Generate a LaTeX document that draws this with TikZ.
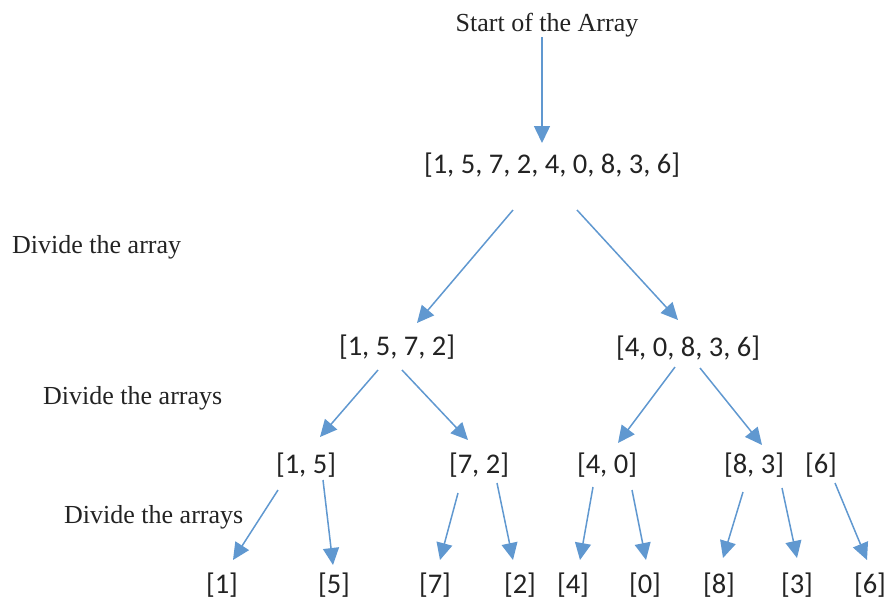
\documentclass[tikz,border=0pt]{standalone}
\usepackage{fontspec}
\setmainfont{Liberation Serif}
\newfontfamily\numfont{Carlito}
\usetikzlibrary{arrows.meta}
\definecolor{arrowblue}{RGB}{96,152,208}
\definecolor{inkgray}{RGB}{35,35,35}
\begin{document}
\begin{tikzpicture}[x=1pt,y=-1pt,
  arr/.style={draw=arrowblue,line width=1.5pt,
    -{Triangle[length=17pt,width=16pt,fill=arrowblue]}},
  arrnode/.style={anchor=base,inner sep=0pt,text=inkgray,
    font=\numfont\fontsize{28.5}{34}\selectfont},
  note/.style={anchor=base west,inner sep=0pt,text=inkgray,
    font=\fontsize{26}{30}\selectfont},
  title/.style={anchor=base,inner sep=0pt,text=inkgray,
    font=\fontsize{26}{30}\selectfont}]
\useasboundingbox (0,0) rectangle (887,603);

% labels
\node[title] (start) at (547,31) {Start of the Array};
\node[note] (n1) at (12,253) {Divide the array};
\node[note] (n2) at (43,404) {Divide the arrays};
\node[note] (n3) at (64,523) {Divide the arrays};

% array levels
\node[arrnode] (root) at (552,173) {[1, 5, 7, 2, 4, 0, 8, 3, 6]};
\node[arrnode] (l1a) at (397,355) {[1, 5, 7, 2]};
\node[arrnode] (l1b) at (688,356) {[4, 0, 8, 3, 6]};
\node[arrnode] (l2a) at (306,473) {[1, 5]};
\node[arrnode] (l2b) at (479,473) {[7, 2]};
\node[arrnode] (l2c) at (607,473) {[4, 0]};
\node[arrnode] (l2d) at (754,473) {[8, 3]};
\node[arrnode] (l2e) at (821,473) {[6]};
\node[arrnode] (f1) at (222,593) {[1]};
\node[arrnode] (f2) at (334,593) {[5]};
\node[arrnode] (f3) at (435,593) {[7]};
\node[arrnode] (f4) at (520,593) {[2]};
\node[arrnode] (f5) at (573,593) {[4]};
\node[arrnode] (f6) at (645,593) {[0]};
\node[arrnode] (f7) at (719,593) {[8]};
\node[arrnode] (f8) at (797,593) {[3]};
\node[arrnode] (f9) at (870,593) {[6]};

% connectors
\draw[arr] ([shift={(-5,6)}]start.base) -- ([shift={(-10,-30)}]root.base);
\draw[arr] ([shift={(-39,37)}]root.base) -- ([shift={(20,-32)}]l1a.base);
\draw[arr] ([shift={(25,37)}]root.base) -- ([shift={(-10,-36)}]l1b.base);
\draw[arr] ([shift={(-19,15)}]l1a.base) -- ([shift={(14,-36)}]l2a.base);
\draw[arr] ([shift={(5,15)}]l1a.base) -- ([shift={(-11,-33)}]l2b.base);
\draw[arr] ([shift={(-13,11)}]l1b.base) -- ([shift={(11,-30)}]l2c.base);
\draw[arr] ([shift={(12,12)}]l1b.base) -- ([shift={(8,-28)}]l2d.base);
\draw[arr] ([shift={(-28,17)}]l2a.base) -- ([shift={(11,-33)}]f1.base);
\draw[arr] ([shift={(17,7)}]l2a.base) -- ([shift={(-1,-28)}]f2.base);
\draw[arr] ([shift={(-21,20)}]l2b.base) -- ([shift={(5,-33)}]f3.base);
\draw[arr] ([shift={(18,10)}]l2b.base) -- ([shift={(-7,-33)}]f4.base);
\draw[arr] ([shift={(-14,14)}]l2c.base) -- ([shift={(7,-33)}]f5.base);
\draw[arr] ([shift={(25,17)}]l2c.base) -- ([shift={(1,-33)}]f6.base);
\draw[arr] ([shift={(-11,19)}]l2d.base) -- ([shift={(4,-35)}]f7.base);
\draw[arr] ([shift={(28,15)}]l2d.base) -- ([shift={(0,-35)}]f8.base);
\draw[arr] ([shift={(14,10)}]l2e.base) -- ([shift={(-3,-33)}]f9.base);
\end{tikzpicture}
\end{document}
